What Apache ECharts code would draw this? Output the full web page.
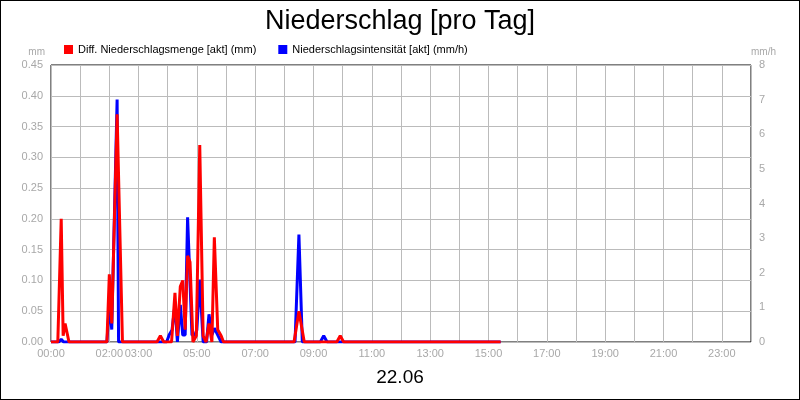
<!DOCTYPE html>
<html>
<head>
<meta charset="utf-8">
<script src="https://cdn.jsdelivr.net/npm/echarts@6/dist/echarts.min.js"></script>
<style>
  html, body { margin: 0; padding: 0; background: #fff; }
  #chart { width: 798px; height: 398px; border: 1px solid #000; }
</style>
</head>
<body>
<div id="chart"></div>
<script>
// minutes since 00:00
var amountTimes = [0, 14, 21, 25, 29, 37, 115, 120, 125, 136, 147, 218, 225, 232, 248, 255, 260, 266, 271, 276, 281, 286, 292, 299, 306, 313, 319, 325, 331, 336, 343, 350, 355, 500, 510, 521, 588, 595, 602, 925];
var amountValues = [0, 0, 0.20, 0.01, 0.03, 0, 0, 0.11, 0.03, 0.37, 0, 0, 0.01, 0, 0, 0.08, 0.01, 0.09, 0.10, 0.02, 0.14, 0.13, 0, 0.01, 0.32, 0.01, 0, 0.03, 0, 0.17, 0.02, 0.01, 0, 0, 0.05, 0, 0, 0.01, 0, 0];

var rateTimes = [0, 16, 21, 26, 30, 34, 38, 115, 120, 125, 136, 139, 238, 243, 249, 255, 260, 266, 271, 276, 281, 290, 296, 300, 306, 313, 320, 325, 331, 336, 350, 502, 510, 517, 554, 561, 568, 925];
var rateValues = [0, 0, 0.08, 0, 0.05, 0, 0, 0, 1.07, 0.36, 7.0, 0, 0, 0.2, 0.35, 1.07, 0, 1.07, 0.2, 0.2, 3.6, 0.2, 0.2, 0.35, 1.8, 0, 0, 0.8, 0.2, 0.4, 0, 0, 3.1, 0, 0, 0.18, 0, 0];

var shownHours = [0, 2, 3, 5, 7, 9, 11, 13, 15, 17, 19, 21, 23];

function pairs(xs, ys) {
    return xs.map(function (x, i) { return [x, ys[i]]; });
}

function pad(h) { return (h < 10 ? '0' : '') + h + ':00'; }

var chart = echarts.init(document.getElementById('chart'));
var grey = '#a8a8a8';
chart.setOption({
    animation: false,
    title: {
        text: 'Niederschlag [pro Tag]',
        left: 'center', top: 2,
        textStyle: { fontFamily: 'Liberation Sans', fontSize: 27, fontWeight: 'normal', color: '#000' }
    },
    legend: {
        left: 58, top: 38,
        itemWidth: 9, itemHeight: 9, itemGap: 22,
        icon: 'rect',
        textStyle: { fontFamily: 'Liberation Sans', fontSize: 11, color: '#000' },
        data: ['Diff. Niederschlagsmenge [akt] (mm)', 'Niederschlagsintensität [akt] (mm/h)']
    },
    graphic: [{
        type: 'text', left: 'center', top: 367,
        style: { text: '22.06', font: '19px "Liberation Sans"', fill: '#000' }
    }],
    grid: { left: 50, right: 48, top: 64, bottom: 57, show: true, borderColor: '#000', borderWidth: 1 },
    xAxis: {
        type: 'value', min: 0, max: 1440, interval: 60,
        axisLine: { show: false }, axisTick: { show: false },
        splitLine: { lineStyle: { color: '#bbb', width: 1 } },
        axisLabel: {
            color: grey, fontFamily: 'Liberation Sans', fontSize: 11, margin: 6,
            formatter: function (v) { var h = v / 60; return shownHours.indexOf(h) >= 0 ? pad(h) : ''; }
        }
    },
    yAxis: [{
        type: 'value', min: 0, max: 0.45, interval: 0.05,
        name: 'mm', nameGap: 8, nameLocation: 'end',
        nameTextStyle: { color: grey, fontSize: 10, align: 'right', padding: [0, 6, 0, 0] },
        axisLine: { show: false }, axisTick: { show: false },
        splitLine: { lineStyle: { color: '#bbb' } },
        axisLabel: { color: grey, fontFamily: 'Liberation Sans', fontSize: 11, formatter: function (v) { return v.toFixed(2); } }
    }, {
        type: 'value', min: 0, max: 8, interval: 1,
        name: 'mm/h', nameGap: 8,
        nameTextStyle: { color: grey, fontSize: 10, align: 'left' },
        axisLine: { show: false }, axisTick: { show: false },
        splitLine: { show: false },
        axisLabel: { color: grey, fontFamily: 'Liberation Sans', fontSize: 11 }
    }],
    series: [{
        name: 'Niederschlagsintensität [akt] (mm/h)',
        type: 'line', yAxisIndex: 1, showSymbol: false,
        color: '#0000ff', lineStyle: { width: 3 },
        data: pairs(rateTimes, rateValues)
    }, {
        name: 'Diff. Niederschlagsmenge [akt] (mm)',
        type: 'line', yAxisIndex: 0, showSymbol: false,
        color: '#ff0000', lineStyle: { width: 3 },
        data: pairs(amountTimes, amountValues)
    }]
});
</script>
</body>
</html>
